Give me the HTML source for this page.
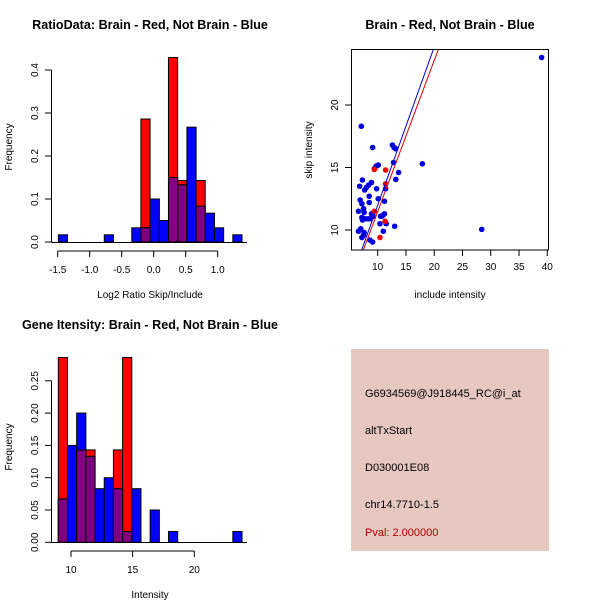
<!DOCTYPE html>
<html><head><meta charset="utf-8"><style>
body{margin:0;background:#fff}
svg{display:block;font-family:"Liberation Sans",sans-serif}
</style></head><body>
<svg id="s" width="600" height="600" xmlns="http://www.w3.org/2000/svg">
<rect width="600" height="600" fill="#fff"/>
<text x="150" y="29" font-size="12.6" font-weight="bold" text-anchor="middle">RatioData: Brain - Red, Not Brain - Blue</text>
<text x="450" y="29" font-size="12.6" font-weight="bold" text-anchor="middle">Brain - Red, Not Brain - Blue</text>
<text x="150" y="329" font-size="12.6" font-weight="bold" text-anchor="middle">Gene Itensity: Brain - Red, Not Brain - Blue</text>
<text x="150" y="298" font-size="10" text-anchor="middle">Log2 Ratio Skip/Include</text>
<text x="150" y="598" font-size="10" text-anchor="middle">Intensity</text>
<text x="450" y="298" font-size="10" text-anchor="middle">include intensity</text>
<text transform="translate(12,147) rotate(-90)" font-size="10" text-anchor="middle">Frequency</text>
<text transform="translate(12,447) rotate(-90)" font-size="10" text-anchor="middle">Frequency</text>
<text transform="translate(312,150) rotate(-90)" font-size="10" text-anchor="middle">skip intensity</text>
<g>
<rect x="351" y="349" width="198" height="202" fill="#e6c8c1"/>
<text x="365" y="397" font-size="11">G6934569@J918445_RC@i_at</text>
<text x="365" y="434" font-size="11">altTxStart</text>
<text x="365" y="471" font-size="11">D030001E08</text>
<text x="365" y="508" font-size="11">chr14.7710-1.5</text>
<text x="365" y="536" font-size="11" fill="#b00000">Pval: 2.000000</text>
</g>
</svg>
<script>
// Ratio histogram data
const ratioBlueStart=-1.49, ratioBinW=0.1435;
const ratioBlue=[0.0167,0,0,0,0,0.0167,0,0,0.033,0.033,0.1,0.05,0.15,0.133,0.267,0.083,0.067,0.033,0,0.0167];
const ratioRedStart=-0.2;
const ratioRed=[0.286,0,0,0.429,0.143,0,0.143];
const ratioXTicks=[-1.5,-1.0,-0.5,0.0,0.5,1.0];
const ratioYTicks=[0.0,0.1,0.2,0.3,0.4];
// Intensity histogram data
const intStart=8.97, intBinW=0.745;
const intBlue=[0.067,0.15,0.2,0.133,0.083,0.1,0.083,0.0167,0.083,0,0.05,0,0.0167,0,0,0,0,0,0,0.0167];
const intRed=[0.286,0,0.143,0.143,0,0,0.143,0.286];
const intXTicks=[10,15,20];
const intYTicks=[0,0.05,0.10,0.15,0.20,0.25];
// Scatter data
const blueX=[39.0,28.4,17.9,7.1,9.1,12.6,12.9,13.2,12.8,13.7,13.2,9.7,9.9,10.1,9.4,11.4,9.8,7.3,6.8,8.9,8.4,8.0,7.7,8.5,8.5,10.1,11.2,6.9,7.2,6.6,7.5,7.6,8.9,9.2,8.7,11.2,11.0,10.7,10.5,7.2,7.8,8.3,7.3,10.4,11.5,13.0,11.0,6.6,7.0,7.6,7.2,7.5,8.6,9.1];
const blueY=[23.8,10.05,15.3,18.3,16.6,16.8,16.6,16.5,15.4,14.6,14.05,15.1,15.15,15.2,14.9,13.3,13.3,14.0,13.5,13.8,13.6,13.4,13.2,12.7,12.2,12.5,12.3,12.4,12.1,11.5,11.7,11.4,11.3,11.1,10.9,11.3,11.2,11.1,11.1,11.0,10.9,10.9,10.8,10.5,10.5,10.3,9.9,9.9,10.1,9.8,9.4,9.6,9.2,9.04];
const redX=[11.4,9.4,11.4,9.4,11.3,10.4];
const redY=[14.8,14.85,13.7,11.5,10.7,9.4];
const fitBlue=[1.266,-0.677], fitRed=[1.2095,-0.62];
const scXTicks=[10,15,20,25,30,35,40];
const scYTicks=[10,15,20];

const NS='http://www.w3.org/2000/svg', S=document.getElementById('s');
function el(t,a,p){const e=document.createElementNS(NS,t);for(const k in a)e.setAttribute(k,a[k]);(p||S).appendChild(e);return e;}
function txt(x,y,s,a,rot,p){const e=el('text',Object.assign({x:x,y:y,'font-size':10,'text-anchor':'middle'},a||{}),p);if(rot)e.setAttribute('transform','rotate(-90 '+x+' '+y+')');e.textContent=s;return e;}

function hist(name,xs,ys,blueStart,bw,blue,redStart,red,xt,yt,yfmt,xfmt,baseY){
  const g=el('g',{});
  
  
  function rect(a,b,v,fill,nm){if(v<=0)return;const r=el('rect',{x:xs(a),y:ys(v),width:xs(b)-xs(a),height:ys(0)-ys(v),fill:fill,stroke:'#000','stroke-width':1},g);
    
    }
  red.forEach((v,i)=>{const a=redStart+i*bw;rect(a,a+bw,v,'#ff0000','bar-red-'+i);});
  blue.forEach((v,i)=>{const a=blueStart+i*bw;rect(a,a+bw,v,'#0000ff','bar-blue-'+i);});
  red.forEach((v,i)=>{const a=redStart+i*bw;blue.forEach((w,j)=>{const c=blueStart+j*bw;if(Math.abs(c-a)<bw/2){const m=Math.min(v,w);const b2=Math.min(a+bw,c+bw),a2=Math.max(a,c);
    if(m>0){rect(a2,b2,m,'#800080','bar-overlap-'+i);}}});});
  const ya=el('g',{stroke:'#000'},g);
  
  
  el('line',{x1:51.5,x2:51.5,y1:ys(yt[0]),y2:ys(yt[yt.length-1])},ya);
  yt.forEach(t=>{el('line',{x1:45,x2:51.5,y1:ys(t),y2:ys(t)},ya);txt(38,ys(t),yfmt(t),{stroke:'none'},true,g);});
  el('line',{x1:51.5,x2:247,y1:baseY,y2:baseY,stroke:'#000'},g);
  const xa=el('g',{stroke:'#000'},g);
  
  
  const ay=baseY+8.5;
  el('line',{x1:xs(xt[0]),x2:xs(xt[xt.length-1]),y1:ay,y2:ay},xa);
  xt.forEach(t=>{el('line',{x1:xs(t),x2:xs(t),y1:ay,y2:ay+6},xa);txt(xs(t),ay+22,xfmt(t),{},false,g);});
}
hist('ratio-histogram',v=>153.7+v*64,v=>242-v*430,ratioBlueStart,ratioBinW,ratioBlue,ratioRedStart,ratioRed,ratioXTicks,ratioYTicks,t=>t.toFixed(1),t=>t.toFixed(1),242.5);
hist('intensity-histogram',v=>71+(v-10)*12.33,v=>542.3-v*646,intStart,intBinW,intBlue,intStart,intRed,intXTicks,intYTicks,t=>t.toFixed(2),t=>String(t),542.5);

const sx=v=>377.7+(v-10)*5.653, sy=v=>230-(v-10)*12.5;
const sg=el('g',{});


el('clipPath',{id:'cp'},sg);
el('rect',{x:351.5,y:49.5,width:197,height:200.5},document.getElementById('cp'));
const lg=el('g',{'clip-path':'url(#cp)'},sg);
blueX.forEach((x,i)=>{const c=el('circle',{cx:sx(x),cy:sy(blueY[i]),r:2.8,fill:'#0000dd'},lg);
  
  });
redX.forEach((x,i)=>{const c=el('circle',{cx:sx(x),cy:sy(redY[i]),r:2.8,fill:'#ee0000'},lg);
  
  });
[[fitBlue,'#0000cc','fit-line-blue'],[fitRed,'#dd0000','fit-line-red']].forEach(([f,c,n])=>{
  const l=el('line',{x1:sx(5),y1:sy(f[0]*5+f[1]),x2:sx(25),y2:sy(f[0]*25+f[1]),stroke:c,'stroke-width':1},lg);
  
  });
el('rect',{x:351.5,y:49.5,width:197,height:200.5,fill:'none',stroke:'#000'},sg);
scXTicks.forEach(t=>{el('line',{x1:sx(t),x2:sx(t),y1:250,y2:256,stroke:'#000'},sg);txt(sx(t),270,String(t),{},false,sg);});
scYTicks.forEach(t=>{el('line',{x1:345,x2:351.5,y1:sy(t),y2:sy(t),stroke:'#000'},sg);txt(338,sy(t),String(t),{},true,sg);});
</script>
</body></html>
